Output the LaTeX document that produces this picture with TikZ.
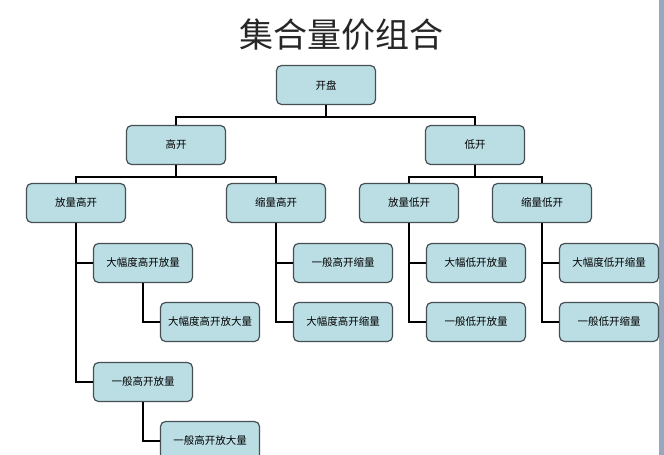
\documentclass[tikz,border=0pt]{standalone}
\usepackage{fontspec}
\newfontfamily\cjk{Noto Sans CJK SC}
\usepackage{tikz}
\usetikzlibrary{positioning}

\definecolor{boxfill}{RGB}{187,222,228}
\definecolor{boxline}{RGB}{70,80,84}
\definecolor{edgestrip}{RGB}{152,166,190}

\tikzset{
  box/.style={draw=boxline, line width=1.2pt, fill=boxfill, rounded corners=5pt,
    minimum width=99pt, minimum height=39pt, inner sep=0pt, font=\cjk\fontsize{10.5}{12}\selectfont},
  link/.style={draw=black, line width=1.8pt}
}

\begin{document}
\begin{tikzpicture}[x=1pt, y=-1pt]
    \useasboundingbox (0,0) rectangle (664,455);
    \clip (0,0) rectangle (664,455);
    \fill[white] (0,0) rectangle (664,455);
    \fill[edgestrip] (659,0) rectangle (664,455);

    % Title
    \node[font=\cjk\fontsize{34}{38}\selectfont, text=black!85] (title) at (341,35) {集合量价组合};

    % Draw boxes
    \foreach \n/\x/\y/\t in {kp/326/85/开盘, gk/176/145/高开, dk/475/145/低开,
        flgk/76/203/放量高开, slgk/276/203/缩量高开, fldk/409/203/放量低开, sldk/542/203/缩量低开,
        dfgkfl/143/263/大幅度高开放量, dfgkfdl/210/322/大幅度高开放大量,
        ybgkfl/143/382/一般高开放量, ybgkfdl/210/441/一般高开放大量,
        ybgksl/343/263/一般高开缩量, dfgksl/343/322/大幅度高开缩量,
        dfdkfl/476/263/大幅低开放量, ybdkfl/476/322/一般低开放量,
        dfdksl/609/263/大幅度低开缩量, ybdksl/609/322/一般低开缩量} {
      \node[box] (\n) at (\x,\y) {\t};
    }

    % Draw tree links
    \foreach \a/\b in {kp/gk, kp/dk, gk/flgk, gk/slgk, dk/fldk, dk/sldk} {
      \draw[link] (\a.south) -- ++(0,12) -| (\b.north);
    }
    \foreach \a/\b in {flgk/dfgkfl, flgk/ybgkfl, dfgkfl/dfgkfdl, ybgkfl/ybgkfdl,
        slgk/ybgksl, slgk/dfgksl, fldk/dfdkfl, fldk/ybdkfl, sldk/dfdksl, sldk/ybdksl} {
      \draw[link] (\a.south) |- (\b.west);
    }
  \end{tikzpicture}
\end{document}
